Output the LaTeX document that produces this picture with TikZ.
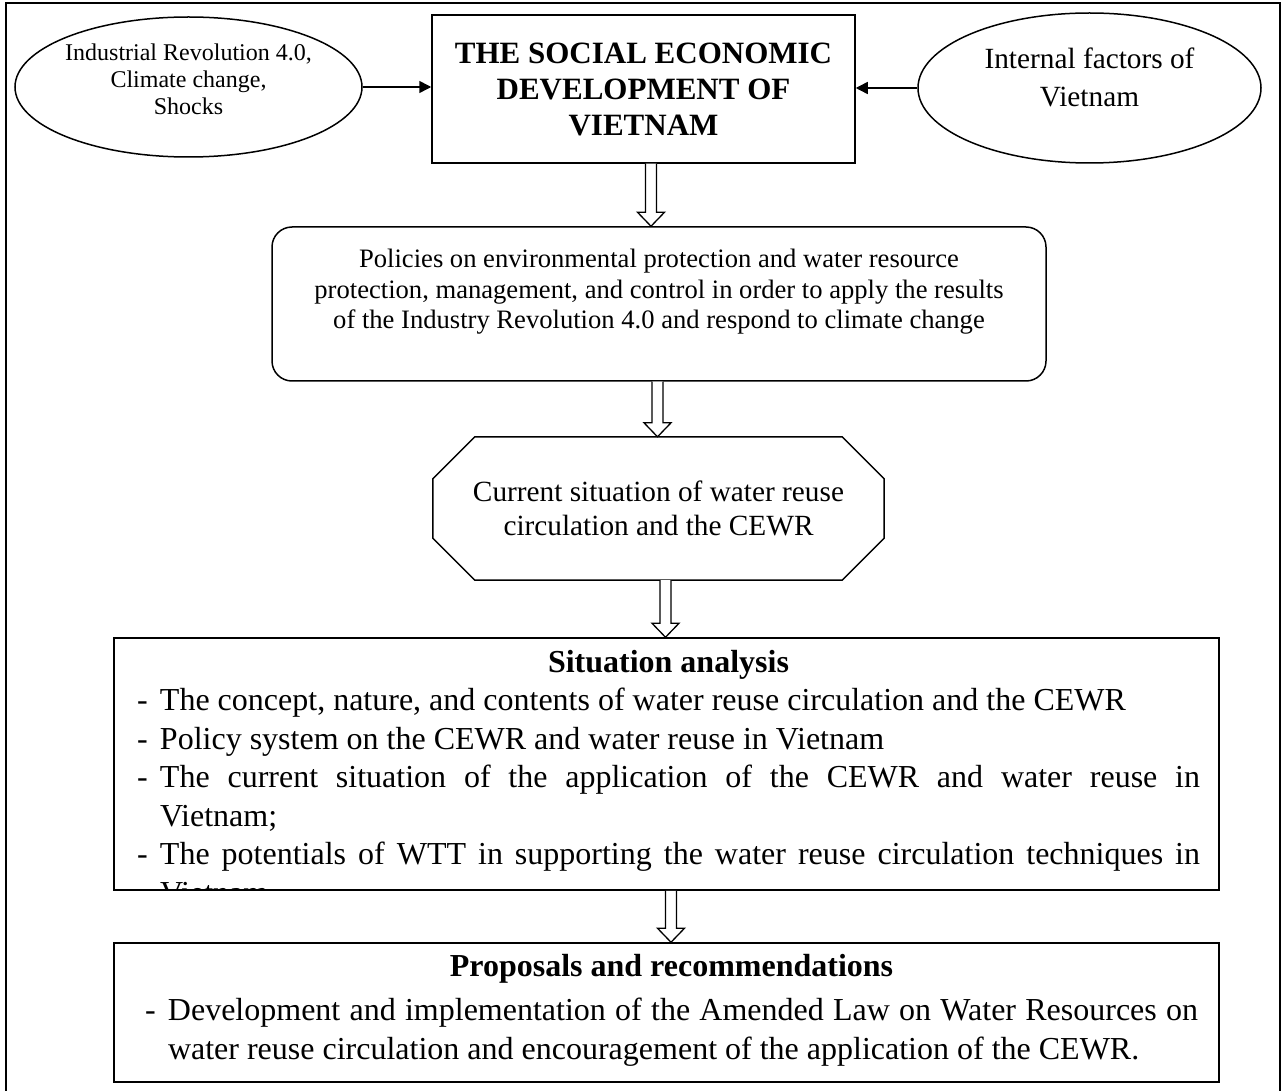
\documentclass[tikz,border=0pt]{standalone}
\usepackage{fontspec}
\setmainfont{Liberation Serif}
\usetikzlibrary{shapes.geometric,arrows.meta,calc}

\tikzset{
  box/.style={draw, line width=1.5pt, inner sep=0pt},
  oval/.style={box, ellipse},
  link/.style={line width=1.5pt, -{Triangle[length=12pt,width=12pt]}},
  hollow/.style={draw, line width=1.3pt, fill=white},
  frame/.style={line width=1.8pt},
}

% hollow block arrow from one box down to the next
\newcommand{\hollowarrow}[3][0]{%
  \draw[hollow] let \p1=($(#2.south)+(#1,0)$), \p2=(#3.north) in
    (\x1-5.5,\y1) -- (\x1-5.5,\y2+14) -- (\x1-13.5,\y2+14) -- (\x1,\y2)
    -- (\x1+13.5,\y2+14) -- (\x1+5.5,\y2+14) -- (\x1+5.5,\y1);}
\newcommand{\dashitem}[1]{\hangindent=23pt\hangafter=1\noindent\makebox[23pt][l]{-}#1\par}
\newcommand{\wordsetup}{\hyphenpenalty=10000\tolerance=9999\hbadness=10000\spaceskip=0.25em plus 0.5em minus 0pt\relax}

\begin{document}
\begin{tikzpicture}[x=1pt,y=-1pt]
\useasboundingbox (0,0) rectangle (1283,1091);
\draw[frame] (6,1091) -- (6,3) -- (1280,3) -- (1280,1091);

% top row
\node[oval, minimum width=347, minimum height=140] (shocks) at (188.5,87) {};
\node[align=center, font=\fontsize{24}{27}\selectfont] (shockstext) at ([yshift=8]shocks.center) {Industrial Revolution 4.0,\\Climate change,\\Shocks};
\node[box, minimum width=423, minimum height=148, align=center, font=\fontsize{31}{36}\selectfont\bfseries] (devt) at (643.5,89) {THE SOCIAL ECONOMIC\\DEVELOPMENT OF\\VIETNAM};
\node[oval, minimum width=343, minimum height=150] (internal) at (1089.5,88) {};
\node[align=center, font=\fontsize{29.3}{38}\selectfont] (internaltext) at ([yshift=11]internal.center) {Internal factors of\\Vietnam};
\draw[link] (shocks.east) -- (shocks.east -| devt.west);
\draw[link] (internal.west) -- (internal.west -| devt.east);

% policies
\node[box, rounded corners=20, minimum width=774, minimum height=154] (policies) at (659,304) {};
\node[anchor=north, inner sep=0pt, align=center, font=\fontsize{26.6}{30.6}\selectfont] (policytext) at (659,249) {Policies on environmental protection and water resource\\protection, management, and control in order to apply the results\\of the Industry Revolution 4.0 and respond to climate change};

% current situation
\node[minimum width=451, minimum height=143, inner sep=0pt, align=center, font=\fontsize{29.3}{33.7}\selectfont] (current) at (658.5,508.5) {Current situation of water reuse\\circulation and the CEWR};
\draw[box] ([xshift=42]current.north west) -- ([xshift=-42]current.north east) -- ([yshift=-42]current.north east) -- ([yshift=42]current.south east) -- ([xshift=-42]current.south east) -- ([xshift=42]current.south west) -- ([yshift=42]current.south west) -- ([yshift=-42]current.north west) -- cycle;

% situation analysis
\node[box, minimum width=1105, minimum height=252] (situation) at (666.5,764) {};
\begin{scope}
\clip (situation.north west) rectangle (situation.south east);
\node[anchor=north, inner sep=0pt, text width=1063, align=justify, font=\fontsize{32}{38.5}\selectfont] (analysis) at (668.5,650) {\wordsetup
{\centering\bfseries Situation analysis\par}
\dashitem{The concept, nature, and contents of water reuse circulation and the CEWR}
\dashitem{Policy system on the CEWR and water reuse in Vietnam}
\dashitem{The current situation of the application of the CEWR and water reuse in Vietnam;}
\dashitem{The potentials of WTT in supporting the water reuse circulation techniques in Vietnam}};
\end{scope}

% proposals
\node[box, minimum width=1105, minimum height=139] (proposals) at (666.5,1012.5) {};
\node[anchor=north, inner sep=0pt, text width=1053, align=justify, font=\fontsize{32}{39}\selectfont] (recommend) at (671.5,954) {\wordsetup
{\centering\bfseries Proposals and recommendations\par}
\vspace{5pt}
\dashitem{Development and implementation of the Amended Law on Water Resources on water reuse circulation and encouragement of the application of the CEWR.}};

\hollowarrow[7.5]{devt}{policies}
\hollowarrow[-1.5]{policies}{current}
\hollowarrow[7]{current}{situation}
\hollowarrow[4.5]{situation}{proposals}
\end{tikzpicture}
\end{document}
